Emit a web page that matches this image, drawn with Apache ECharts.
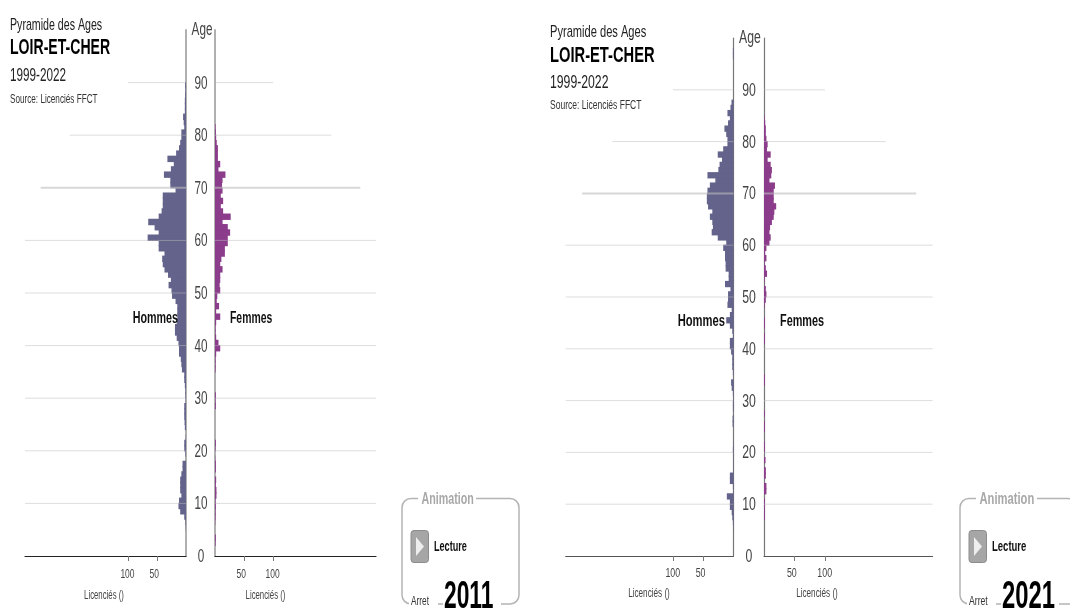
<!DOCTYPE html>
<html><head><meta charset="utf-8">
<style>html,body{margin:0;padding:0;background:#fff}#c{width:1070px;height:612px}</style>
<script src="https://cdn.jsdelivr.net/npm/echarts@6/dist/echarts.min.js"></script>
</head><body><div id="c"></div>
<script>
// values by age, starting at age 0
const hommes2011 = [0,0,0,0,0,0.5,1,3,10,13,12,8,10,10,10,8,6,6,0,1,3,3,0.5,0,2,2.5,3,3,3,0.5,1,1,2,3,3,7,8,9,12,12,13,16,19,19,16,15,15,15,18,24,25,30,26,31,37,40,41,37,47,47,66,47,54,65,47,42,40,40,40,18,27,27,38,26,21,32,17,12,10,8,8,3,4,5,2,2,2,1.5,1,1.5];
const femmes2011 = [0,0,1,1.5,0,0,0.5,1,1,1.5,1,2.5,2.5,1.5,2,0,1.5,1.5,0.5,0,1,1.5,0,0,0,0,0,0,1.5,1,1.5,0,0,0,0,1,1,1,2,9,6,2,1,1,2,9,2,7,3,4,9,8,9,9,13,9,11,17,17,22,22,26,22,13,27,14,10,14,10,13,12,13,18,6,9,5,5,5,3,2,1.5,1];
const hommes2021 = [0,0,0,0,0,0.5,1,2,3,6,6,11,0.5,1,6,6,0.5,0.5,0.5,0.5,1,0.5,0,0,0,1.5,1.5,0,1,1,0.5,1,3,4,0,1,2,2,2,4,6,6,1,2,6,12,6,3,10,9,9,5,14,8,8,13,13,14,14,17,12,26,36,34,35,39,35,42,44,44,43,39,30,43,25,23,19,26,17,10,10,12,15,9,6,10,5,3.3,0,0,0,0,0,0,0,0,1,1];
const femmes2021 = [0,0,0,0,0,0,0,1.5,1.5,1.5,1.5,0,4,4,0,3,3,0,2.5,0,1.5,1.5,0,0,1.5,1.5,0,1.5,0,0,0,0,0,1.5,1.5,0,0,0,0,0,0,1.5,1.5,0,1.5,1.5,0,0,1,3,4,3,0.5,1,5,3,1,4,2,4,9,11,9,10,13,16,17,20,16,16,16,18,9,12,13,11,6,11,5,6,4,3,3,2,1];
const ageCategories = Array.from({length:100},(_,i)=>i);
const ageTicks = [0,10,20,30,40,50,60,70,80,90,100];
const ageTickLabels = ['0','10','20','30','40','50','60','70','80','90','Age'];
const gridAges = [10,20,30,40,50,60,70,80,90];
const gridReach = [277,277,277,277,277,277,250,200,100];
const licenceTicks = [50,100];
const panels = [
 {m:hommes2011,f:femmes2011,year:'2011',ml:25,mw:161,fl:215,fw:161,top:30,h:526,axis:'#b0b0b0',axisW:2,base:'#222222',x0:10,ty:[24,47,75,99],hy:318,hx:178,fx:230,nm:104,nf:265.5,bx:402,bw:117,sx:1,labX:201,tickY:573,nameY:594,gap:74},
 {m:hommes2021,f:femmes2021,year:'2021',ml:565.7,mw:167.8,fl:764,fw:168.6,top:38,h:518,axis:'#777777',axisW:1.2,base:'#555555',x0:550,ty:[31.5,55,82,105],hy:321,hx:725,fx:780,nm:649,nf:817,bx:960,bw:117,sx:1.045,labX:749,tickY:572,nameY:592,gap:77}
];
const FONT='"Liberation Sans",Arial,sans-serif';
const grids=[],xAxes=[],yAxes=[],series=[],graphic=[];
function txt(x,y,t,size,weight,color,align,sc){
  graphic.push({type:'text',z:20,x,y:y+1,scaleX:sc||0.65,style:{text:t,font:(weight||'normal')+' '+size+'px '+FONT,fill:color||'#222',align:align||'left',verticalAlign:'middle'}});
}
panels.forEach(p=>{
  p.gx=[];
  [[p.ml,p.mw,p.m,true,'#63638b'],[p.fl,p.fw,p.f,false,'#8b3c8b']].forEach(([l,w,vals,male,col])=>{
    const g=grids.length;
    p.gx.push(g);
    grids.push({left:l,top:p.top,width:w,height:p.h});
    xAxes.push({gridIndex:g,type:'value',inverse:male,min:0,max:277,splitLine:{show:false},
      axisLine:{show:true,onZero:false,lineStyle:{color:p.base,width:1.2}},
      axisTick:{show:true,length:5,customValues:licenceTicks,lineStyle:{color:'#777'}},
      axisLabel:{show:false}});
    const cat=yAxes.length;
    if(male) p.valAxis=cat+1;
    yAxes.push({gridIndex:g,type:'category',data:ageCategories,boundaryGap:true,show:false});
    yAxes.push({gridIndex:g,type:'value',min:0,max:100,interval:10,position:male?'right':'left',splitLine:{show:false},
      axisLine:{show:true,onZero:false,lineStyle:{color:p.axis,width:p.axisW}},axisTick:{show:false},axisLabel:{show:false}});
    series.push({type:'bar',xAxisIndex:g,yAxisIndex:cat,data:vals,barWidth:'122%',itemStyle:{color:col},silent:true,z:2});
    gridAges.forEach((a,i)=>{
      series.push({type:'line',xAxisIndex:g,yAxisIndex:cat+1,showSymbol:false,silent:true,z:3,
        data:[[0,a],[gridReach[i],a]],
        lineStyle:{color:a===70?'rgba(190,190,190,0.6)':'rgba(190,190,190,0.5)',width:a===70?2:1}});
    });
  });
  const s=p.sx,[a,b,c,d]=p.ty;
  txt(p.x0,a,'Pyramide des Ages',17,'normal','#222','left',.625*s);
  txt(p.x0,b,'LOIR-ET-CHER',22,'bold','#000','left',.64*s);
  txt(p.x0,c,'1999-2022',18,'normal','#222','left',.65*s);
  txt(p.x0,d,'Source: Licenciés FFCT',12,'normal','#333','left',.68*s);
  txt(p.hx,p.hy,'Hommes',16,'bold','#111','right',.67*s);
  txt(p.fx,p.hy,'Femmes',16,'bold','#111','left',.65*s);
  txt(p.nm,p.nameY,'Licenciés ()',13,'normal','#444','center',.6*s);
  txt(p.nf,p.nameY,'Licenciés ()',13,'normal','#444','center',.6*s);
  // animation box
  graphic.push({type:'rect',z:10,shape:{x:p.bx,y:498.5,width:p.bw,height:105.5,r:9},style:{fill:'none',stroke:'#b4b4b4',lineWidth:1.5}});
  graphic.push({type:'rect',z:11,shape:{x:p.bx+16,y:490,width:p.gap-16,height:16},style:{fill:'#fff'}});
  txt(p.bx+19.5,498,'Animation',17,'bold','#a8a8a8','left',.63*s);
  graphic.push({type:'rect',z:12,shape:{x:p.bx+9,y:530.5,width:17.5,height:32,r:3},style:{fill:'#a6a6a6',stroke:'#8c8c8c',lineWidth:1}});
  graphic.push({type:'polygon',z:13,shape:{points:[[p.bx+14,537],[p.bx+14,556],[p.bx+22,546.5]]},style:{fill:'#eee'}});
  txt(p.bx+32,546,'Lecture',14,'bold','#111','left',.65*s);
  graphic.push({type:'rect',z:11,shape:{x:p.bx+7,y:596,width:29,height:16},style:{fill:'#fff'}});
  graphic.push({type:'rect',z:11,shape:{x:p.bx+41,y:596,width:58,height:16},style:{fill:'#fff'}});
  txt(p.bx+9,601,'Arret',12,'normal','#333','left',.69*s);
  txt(p.bx+42,597,p.year,38,'bold','#000','left',.6*s);
});
const chart=echarts.init(document.getElementById('c'),null,{renderer:'canvas'});
const base={animation:false,backgroundColor:'#fff',grid:grids,xAxis:xAxes,yAxis:yAxes,series};
chart.setOption(base);
// tick labels placed through the axes' own scales (condensed text, which axis labels cannot do)
panels.forEach(p=>{
  ageTicks.forEach((v,i)=>{
    const y=chart.convertToPixel({yAxisIndex:p.valAxis},v);
    txt(p.labX+(v===100?1:0),y-(v===100?1:0),ageTickLabels[i],18,'normal','#444','center',.65*p.sx);
  });
  p.gx.forEach(g=>{
    licenceTicks.forEach(v=>{
      const x=chart.convertToPixel({xAxisIndex:g},v);
      txt(x-7.5,p.tickY,String(v),13,'normal','#444','left',.65*p.sx);
    });
  });
});
chart.setOption({graphic:{elements:graphic}});
</script></body></html>
